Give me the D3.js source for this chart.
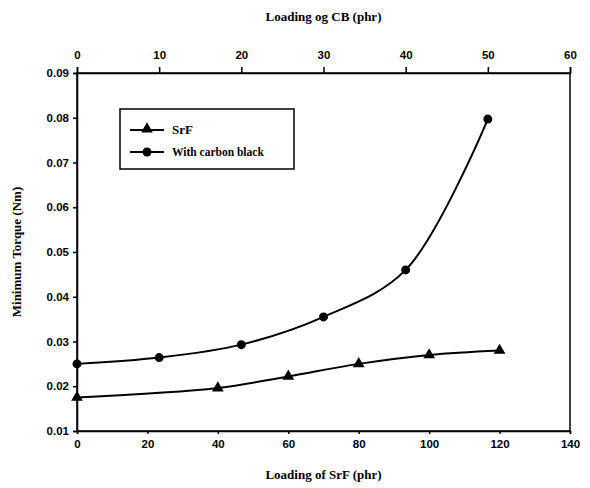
<!DOCTYPE html>
<html><head><meta charset="utf-8">
<script src="https://cdn.jsdelivr.net/npm/d3@7"></script>
<style>body{margin:0;background:#fff}</style>
</head><body>
<script>
const srfLoading = [0, 40, 60, 80, 100, 120];
const srfTorque = [0.0175, 0.0196, 0.0222, 0.0250, 0.0270, 0.0280];
const cbLoading = [0, 10, 20, 30, 40, 50];
const cbTorque = [0.0250, 0.0264, 0.0293, 0.0355, 0.0460, 0.0797];
const bottomTicks = [0, 20, 40, 60, 80, 100, 120, 140];
const topTicks = [0, 10, 20, 30, 40, 50, 60];
const yTicks = [0.01, 0.02, 0.03, 0.04, 0.05, 0.06, 0.07, 0.08, 0.09];

const W = 590, H = 488;
const m = {l: 77, r: 20, t: 73, b: 57};
const svg = d3.select("body").append("svg").attr("width", W).attr("height", H);
const x = d3.scaleLinear().domain([0, 140]).range([m.l, W - m.r]);
const xt = d3.scaleLinear().domain([0, 60]).range([m.l, W - m.r]);
const y = d3.scaleLinear().domain([0.01, 0.09]).range([H - m.b, m.t]);

const tickFont = "'Liberation Sans', Arial, sans-serif";
const serif = "'Liberation Serif', 'Times New Roman', serif";

svg.append("rect").attr("x", m.l).attr("y", m.t).attr("width", W - m.r - m.l).attr("height", H - m.b - m.t)
  .attr("fill", "none").attr("stroke", "#000").attr("stroke-width", 1.5);

function styleAxis(g){
  g.select(".domain").attr("stroke-width", 1.5);
  g.selectAll(".tick line").attr("stroke-width", 1.5);
  g.selectAll("text").attr("font-family", tickFont).attr("font-weight", "bold").attr("font-size", 11.5).attr("fill", "#000");
}
svg.append("g").attr("transform", `translate(0,${H - m.b})`)
  .call(d3.axisBottom(x).tickValues(bottomTicks).tickSize(3).tickPadding(6).tickFormat(d3.format("d")))
  .call(styleAxis);
svg.append("g").attr("transform", `translate(0,${m.t})`)
  .call(d3.axisTop(xt).tickValues(topTicks).tickSize(6).tickPadding(8).tickFormat(d3.format("d")))
  .call(styleAxis);
svg.append("g").attr("transform", `translate(${m.l},0)`)
  .call(d3.axisLeft(y).tickValues(yTicks).tickSize(4).tickPadding(4).tickFormat(d3.format(".2f")))
  .call(styleAxis);

svg.append("text").attr("x", (m.l + W - m.r)/2).attr("y", 21).attr("text-anchor", "middle")
  .attr("font-family", serif).attr("font-weight", "bold").attr("font-size", 13).text("Loading og CB (phr)");
svg.append("text").attr("x", (m.l + W - m.r)/2).attr("y", 479).attr("text-anchor", "middle")
  .attr("font-family", serif).attr("font-weight", "bold").attr("font-size", 13).text("Loading of SrF (phr)");
svg.append("text").attr("transform", `translate(21,${(m.t + H - m.b)/2}) rotate(-90)`).attr("text-anchor", "middle")
  .attr("font-family", serif).attr("font-weight", "bold").attr("font-size", 13).text("Minimum Torque (Nm)");

const srf = srfLoading.map((d,i) => [x(d), y(srfTorque[i])]);
const cb = cbLoading.map((d,i) => [xt(d), y(cbTorque[i])]);
const line = d3.line().curve(d3.curveCatmullRom.alpha(0.5));
svg.append("path").attr("d", line(srf)).attr("fill", "none").attr("stroke", "#000").attr("stroke-width", 2);
svg.append("path").attr("d", line(cb)).attr("fill", "none").attr("stroke", "#000").attr("stroke-width", 2);

const tri = d3.symbol().type(d3.symbolTriangle).size(60);
svg.selectAll(".tri").data(srf).enter().append("path")
  .attr("transform", d => `translate(${d[0]},${d[1]})`).attr("d", tri).attr("fill", "#000");
svg.selectAll(".dot").data(cb).enter().append("circle")
  .attr("cx", d => d[0]).attr("cy", d => d[1]).attr("r", 4.5).attr("fill", "#000");

const lg = svg.append("g");
lg.append("rect").attr("x", 120).attr("y", 109).attr("width", 174).attr("height", 60)
  .attr("fill", "#fff").attr("stroke", "#000").attr("stroke-width", 1.5);
const items = [{label: "SrF", sym: "tri", yy: 130, fs: 13}, {label: "With carbon black", sym: "dot", yy: 152, fs: 11.5}];
items.forEach(it => {
  lg.append("line").attr("x1", 130).attr("x2", 164).attr("y1", it.yy).attr("y2", it.yy).attr("stroke", "#000").attr("stroke-width", 2);
  if (it.sym === "tri") lg.append("path").attr("transform", `translate(147,${it.yy - 1})`).attr("d", tri).attr("fill", "#000");
  else lg.append("circle").attr("cx", 147).attr("cy", it.yy).attr("r", 4.5).attr("fill", "#000");
  lg.append("text").attr("x", 172).attr("y", it.yy + 4).attr("font-family", serif).attr("font-weight", "bold")
    .attr("font-size", it.fs).text(it.label);
});
</script>
</body></html>
